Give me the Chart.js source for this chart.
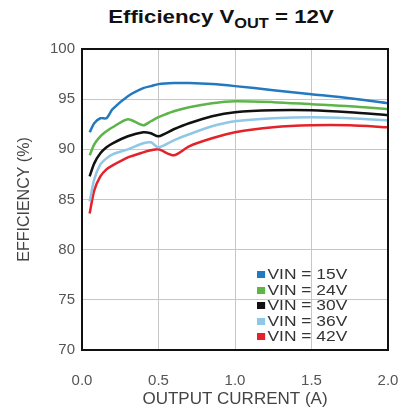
<!DOCTYPE html>
<html>
<head>
<meta charset="utf-8">
<script src="https://cdn.jsdelivr.net/npm/chart.js@4.4.0/dist/chart.umd.min.js"></script>
<style>
  html, body { margin: 0; padding: 0; background: #fff; }
  .wrap { position: relative; width: 402px; height: 410px; overflow: hidden; }
  .chart-box { position: absolute; left: 0; top: 0; width: 402px; height: 410px; }
  .title {
    position: absolute; left: 221px; top: 6px; white-space: nowrap;
    font: bold 19px "Liberation Sans", Arial, sans-serif; color: #111;
    transform: translateX(-50%) scaleX(1.17);
  }
  .title sub { font-size: 14px; vertical-align: -5px; }
  .legend {
    position: absolute; left: 257px; top: 266px;
    font: 15px "Liberation Sans", Arial, sans-serif; color: #333;
    transform: scaleX(1.16); transform-origin: left top;
  }
  .legend div { height: 15.6px; line-height: 15.6px; white-space: nowrap; }
  .legend span { display: inline-block; width: 7px; height: 7px; margin-right: 2px; vertical-align: 1px; }
</style>
</head>
<body>
<div class="wrap">
  <div class="title">Efficiency V<sub>OUT</sub> = 12V</div>
  <div class="chart-box"><canvas id="effChart"></canvas></div>
  <div class="legend" id="legend"></div>
</div>
<script>
// 출력 전류 (A)
const currents = [0.05, 0.08, 0.12, 0.16, 0.2, 0.3, 0.4, 0.45, 0.5, 0.6, 0.7, 0.85, 1.0, 1.25, 1.5, 1.75, 2.0];

// 효율 (%) - 그림에서 읽은 값
const vin15 = [91.7, 92.6, 93.1, 93.1, 94.0, 95.3, 96.1, 96.3, 96.5, 96.6, 96.6, 96.5, 96.3, 95.9, 95.5, 95.1, 94.6];
const vin24 = [89.4, 90.5, 91.3, 91.8, 92.2, 93.0, 92.4, 92.8, 93.2, 93.8, 94.2, 94.6, 94.8, 94.7, 94.5, 94.3, 94.0];
const vin30 = [87.3, 88.6, 89.6, 90.2, 90.6, 91.3, 91.7, 91.6, 91.3, 92.0, 92.6, 93.3, 93.7, 93.9, 93.9, 93.7, 93.4];
const vin36 = [84.8, 87.0, 88.5, 89.1, 89.5, 90.0, 90.6, 90.7, 90.2, 90.9, 91.5, 92.3, 92.8, 93.1, 93.2, 93.1, 92.9];
const vin42 = [83.6, 85.9, 87.3, 88.0, 88.4, 89.2, 89.7, 89.9, 90.0, 89.4, 90.3, 91.1, 91.7, 92.2, 92.4, 92.4, 92.2];

const seriesLabels = ['VIN = 15V', 'VIN = 24V', 'VIN = 30V', 'VIN = 36V', 'VIN = 42V'];
const seriesData = [vin15, vin24, vin30, vin36, vin42];
const colors = ['#2279c0', '#5db54a', '#111111', '#8fc7e6', '#e3222a'];

const xTicks = [0, 0.5, 1.0, 1.5, 2.0];
const yTicks = [70, 75, 80, 85, 90, 95, 100];

const datasets = seriesData.map((values, index) => ({
  label: seriesLabels[index],
  data: values.map((v, i) => ({ x: currents[i], y: v })),
  borderColor: colors[index],
  backgroundColor: colors[index],
  borderWidth: 2.5,
  tension: 0.25,
  pointRadius: 0,
  fill: false,
}));

// 플롯 테두리
const framePlugin = {
  id: 'frame',
  afterDatasetsDraw(chart) {
    const { ctx, chartArea: a } = chart;
    ctx.save();
    ctx.strokeStyle = '#111';
    ctx.lineWidth = 2;
    ctx.strokeRect(a.left, a.top, a.right - a.left, a.bottom - a.top);
    ctx.restore();
  },
};

const fontFamily = '"Liberation Sans", Arial, sans-serif';
const tickFont = { family: fontFamily, size: 15 };

new Chart(document.getElementById('effChart').getContext('2d'), {
  type: 'line',
  data: { datasets },
  plugins: [framePlugin],
  options: {
    responsive: true,
    maintainAspectRatio: false,
    animation: false,
    layout: { padding: { top: 49, right: 14, left: 0, bottom: 0 } },
    plugins: {
      legend: { display: false },
      tooltip: { enabled: false },
    },
    scales: {
      x: {
        type: 'linear',
        min: 0,
        max: 2,
        afterFit: (scale) => { scale.height = 60; },
        afterBuildTicks: (scale) => { scale.ticks = xTicks.map((v) => ({ value: v })); },
        // 눈금 표시는 투명 처리 (라벨 간격용)
        grid: { color: '#c6c6c6', lineWidth: 1, drawTicks: true, tickLength: 22, tickColor: 'rgba(0,0,0,0)' },
        border: { display: false },
        ticks: {
          color: '#555',
          font: tickFont,
          padding: 0,
          callback: (v) => v.toFixed(1),
        },
        title: {
          display: true,
          text: 'OUTPUT CURRENT (A)',
          color: '#444',
          font: { family: fontFamily, size: 17 },
          padding: { top: 3, bottom: 0 },
        },
      },
      y: {
        min: 70,
        max: 100,
        afterFit: (scale) => { scale.width = 82; },
        afterBuildTicks: (scale) => { scale.ticks = yTicks.map((v) => ({ value: v })); },
        grid: { color: '#c6c6c6', lineWidth: 1, drawTicks: false },
        border: { display: false },
        ticks: {
          color: '#555',
          font: tickFont,
          padding: 7,
        },
        title: {
          display: true,
          text: 'EFFICIENCY (%)',
          color: '#444',
          font: { family: fontFamily, size: 16 },
          padding: { top: 15, bottom: 0 },
        },
      },
    },
  },
});

// 범례 (플롯 안쪽 오른쪽 아래)
const legendEl = document.getElementById('legend');
seriesLabels.forEach((label, index) => {
  const row = document.createElement('div');
  const box = document.createElement('span');
  box.style.background = colors[index];
  row.appendChild(box);
  row.appendChild(document.createTextNode(label));
  legendEl.appendChild(row);
});
</script>
</body>
</html>
